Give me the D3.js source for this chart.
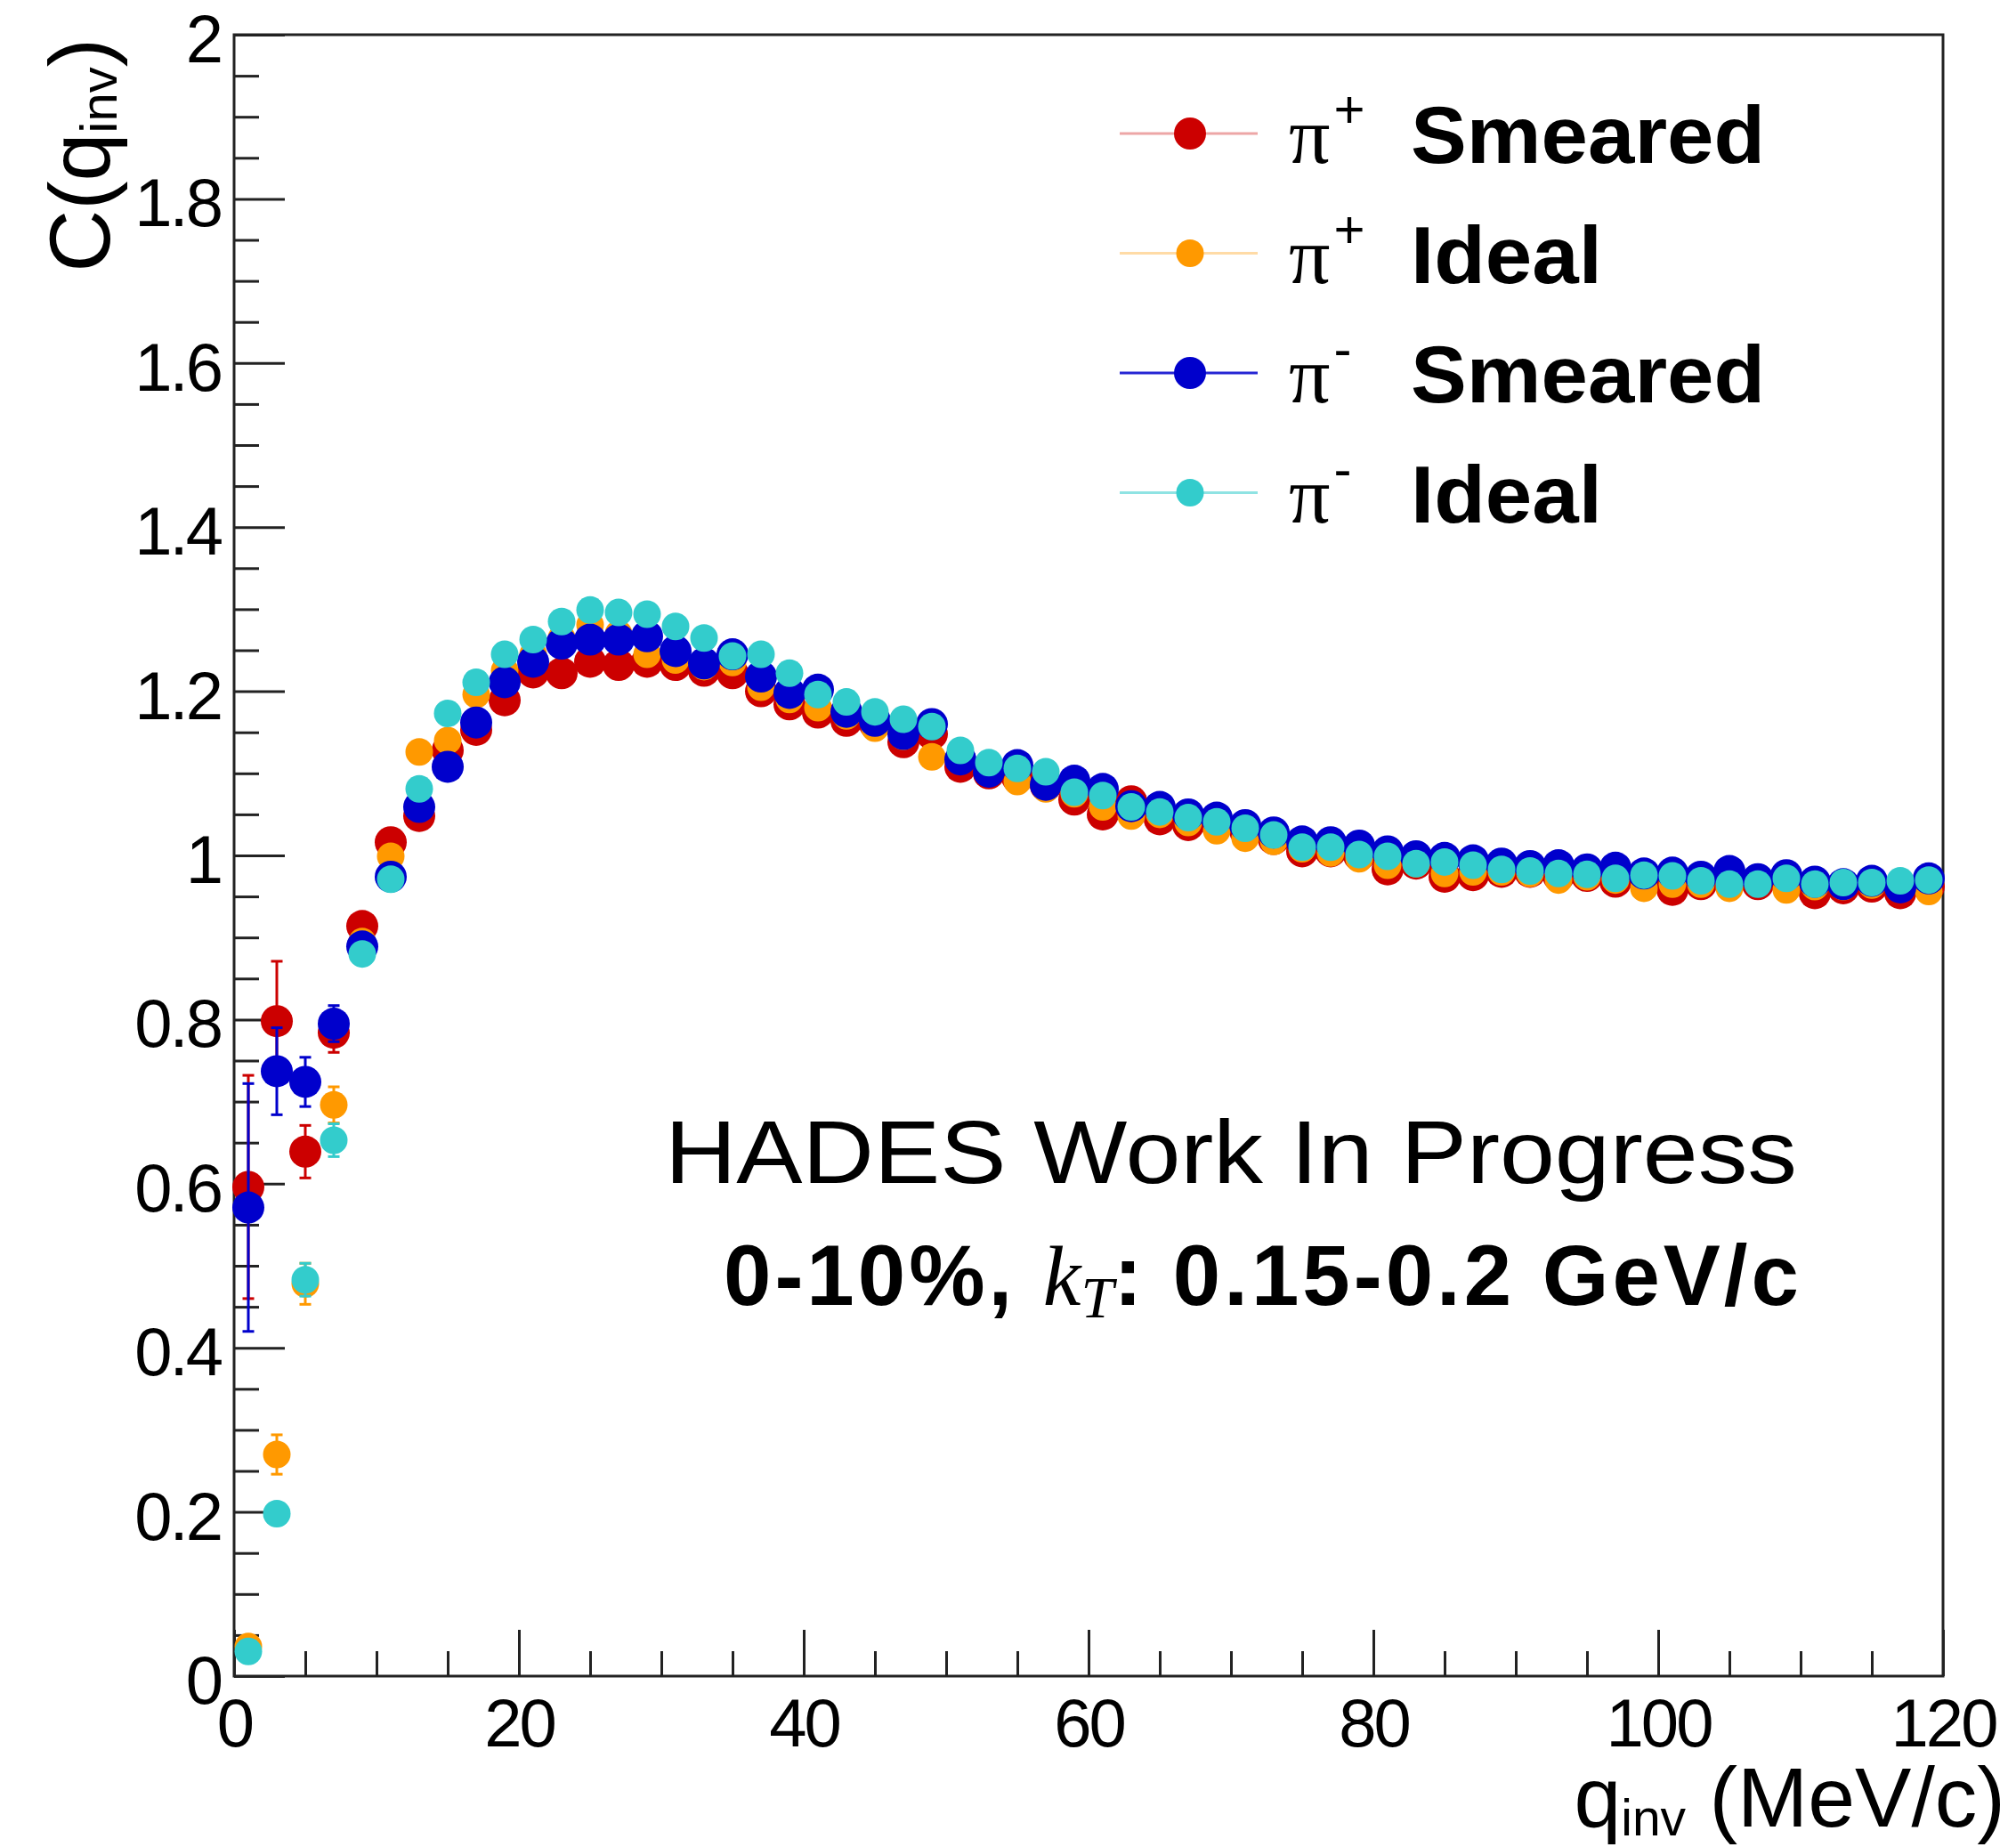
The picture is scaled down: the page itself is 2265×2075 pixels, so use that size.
<!DOCTYPE html>
<html>
<head>
<meta charset="utf-8">
<script src="https://cdn.jsdelivr.net/npm/d3@7"></script>
<style>
  body { margin: 0; background: #fff; }
  svg { display: block; }
  text { font-family: "Liberation Sans", Arial, sans-serif; fill: #000; }
</style>
</head>
<body>
<svg id="chart" width="2265" height="2075"></svg>
<script>
  // bin centres of q_inv (MeV/c)
  var qinv = [1, 3, 5, 7, 9, 11, 13, 15, 17, 19, 21, 23, 25, 27, 29, 31, 33, 35, 37, 39,
              41, 43, 45, 47, 49, 51, 53, 55, 57, 59, 61, 63, 65, 67, 69, 71, 73, 75, 77, 79,
              81, 83, 85, 87, 89, 91, 93, 95, 97, 99, 101, 103, 105, 107, 109, 111, 113, 115, 117, 119];

  var piPlusSmeared = [0.596, 0.798, 0.639, 0.784, 0.914, 1.016, 1.048, 1.128, 1.153, 1.189,
                       1.223, 1.222, 1.236, 1.232, 1.236, 1.232, 1.225, 1.222, 1.200, 1.184,
                       1.174, 1.164, 1.160, 1.138, 1.148, 1.108, 1.100, 1.095, 1.085, 1.068,
                       1.050, 1.066, 1.044, 1.037, 1.038, 1.030, 1.020, 1.005, 1.005, 1.000,
                       0.983, 0.990, 0.974, 0.976, 0.980, 0.980, 0.975, 0.975, 0.968, 0.970,
                       0.958, 0.965, 0.968, 0.965, 0.968, 0.954, 0.960, 0.962, 0.954, 0.962];
  var piPlusSmearedErr = [0.136, 0.073, 0.032, 0.024, 0.016, 0.013, 0.012, 0.011, 0.010, 0.010,
                          0.009, 0.009, 0.009, 0.008, 0.008, 0.008, 0.008, 0.007, 0.007, 0.007,
                          0.007, 0.007, 0.006, 0.006, 0.006, 0.006, 0.006, 0.006, 0.005, 0.005,
                          0.005, 0.005, 0.005, 0.005, 0.005, 0.005, 0.005, 0.005, 0.005, 0.005,
                          0.005, 0.005, 0.005, 0.005, 0.005, 0.005, 0.005, 0.005, 0.005, 0.005,
                          0.005, 0.005, 0.005, 0.005, 0.005, 0.005, 0.005, 0.005, 0.005, 0.005];

  var piPlusIdeal = [0.036, 0.270, 0.478, 0.696, 0.895, 0.999, 1.126, 1.140, 1.196, 1.225,
                     1.245, 1.265, 1.281, 1.270, 1.245, 1.238, 1.230, 1.235, 1.205, 1.190,
                     1.180, 1.170, 1.155, 1.145, 1.120, 1.115, 1.105, 1.090, 1.081, 1.075,
                     1.059, 1.048, 1.050, 1.040, 1.030, 1.021, 1.017, 1.008, 1.003, 0.996,
                     0.988, 0.990, 0.978, 0.980, 0.980, 0.978, 0.970, 0.974, 0.970, 0.960,
                     0.965, 0.965, 0.960, 0.966, 0.958, 0.962, 0.962, 0.964, 0.960, 0.956];
  var piPlusIdealErr = [0.010, 0.024, 0.025, 0.022, 0.012, 0.010, 0.009, 0.008, 0.008, 0.008,
                        0.007, 0.007, 0.007, 0.007, 0.006, 0.006, 0.006, 0.006, 0.006, 0.006,
                        0.005, 0.005, 0.005, 0.005, 0.005, 0.005, 0.005, 0.005, 0.005, 0.005,
                        0.004, 0.004, 0.004, 0.004, 0.004, 0.004, 0.004, 0.004, 0.004, 0.004,
                        0.004, 0.004, 0.004, 0.004, 0.004, 0.004, 0.004, 0.004, 0.004, 0.004,
                        0.004, 0.004, 0.004, 0.004, 0.004, 0.004, 0.004, 0.004, 0.004, 0.004];

  var piMinusSmeared = [0.571, 0.737, 0.724, 0.795, 0.889, 0.974, 1.059, 1.108, 1.162, 1.211,
                        1.236, 1.258, 1.263, 1.263, 1.267, 1.249, 1.234, 1.245, 1.218, 1.198,
                        1.202, 1.175, 1.164, 1.148, 1.160, 1.117, 1.102, 1.110, 1.086, 1.091,
                        1.081, 1.060, 1.059, 1.050, 1.046, 1.037, 1.028, 1.017, 1.016, 1.012,
                        1.005, 0.999, 0.997, 0.994, 0.990, 0.987, 0.988, 0.983, 0.985, 0.978,
                        0.979, 0.974, 0.981, 0.971, 0.976, 0.968, 0.965, 0.969, 0.961, 0.972];
  var piMinusSmearedErr = [0.151, 0.053, 0.030, 0.022, 0.015, 0.013, 0.012, 0.011, 0.010, 0.010,
                           0.009, 0.009, 0.009, 0.008, 0.008, 0.008, 0.008, 0.007, 0.007, 0.007,
                           0.007, 0.007, 0.006, 0.006, 0.006, 0.006, 0.006, 0.006, 0.005, 0.005,
                           0.005, 0.005, 0.005, 0.005, 0.005, 0.005, 0.005, 0.005, 0.005, 0.005,
                           0.005, 0.005, 0.005, 0.005, 0.005, 0.005, 0.005, 0.005, 0.005, 0.005,
                           0.005, 0.005, 0.005, 0.005, 0.005, 0.005, 0.005, 0.005, 0.005, 0.005];

  var piMinusIdeal = [0.030, 0.198, 0.483, 0.653, 0.880, 0.971, 1.081, 1.173, 1.211, 1.245,
                      1.263, 1.285, 1.299, 1.296, 1.294, 1.279, 1.265, 1.243, 1.245, 1.222,
                      1.196, 1.187, 1.175, 1.166, 1.157, 1.128, 1.113, 1.106, 1.102, 1.077,
                      1.073, 1.059, 1.053, 1.046, 1.041, 1.033, 1.025, 1.010, 1.010, 1.001,
                      0.999, 0.990, 0.992, 0.988, 0.983, 0.981, 0.978, 0.977, 0.972, 0.976,
                      0.975, 0.969, 0.965, 0.965, 0.972, 0.965, 0.967, 0.967, 0.969, 0.970];
  var piMinusIdealErr = [0.008, 0.010, 0.020, 0.020, 0.010, 0.009, 0.008, 0.008, 0.008, 0.007,
                         0.007, 0.007, 0.007, 0.006, 0.006, 0.006, 0.006, 0.006, 0.006, 0.006,
                         0.005, 0.005, 0.005, 0.005, 0.005, 0.005, 0.005, 0.005, 0.005, 0.005,
                         0.004, 0.004, 0.004, 0.004, 0.004, 0.004, 0.004, 0.004, 0.004, 0.004,
                         0.004, 0.004, 0.004, 0.004, 0.004, 0.004, 0.004, 0.004, 0.004, 0.004,
                         0.004, 0.004, 0.004, 0.004, 0.004, 0.004, 0.004, 0.004, 0.004, 0.004];

  var xMajorTicks = [0, 20, 40, 60, 80, 100, 120];
  var xMinorTicks = [5, 10, 15, 25, 30, 35, 45, 50, 55, 65, 70, 75, 85, 90, 95, 105, 110, 115];
  var yMajorTicks = [0, 0.2, 0.4, 0.6, 0.8, 1, 1.2, 1.4, 1.6, 1.8, 2];
  var yMinorTicks = [0.05, 0.1, 0.15, 0.25, 0.3, 0.35, 0.45, 0.5, 0.55, 0.65, 0.7, 0.75,
                     0.85, 0.9, 0.95, 1.05, 1.1, 1.15, 1.25, 1.3, 1.35, 1.45, 1.5, 1.55,
                     1.65, 1.7, 1.75, 1.85, 1.9, 1.95];

  var seriesCharge = ["+", "+", "-", "-"];
  var seriesKind = ["Smeared", "Ideal", "Smeared", "Ideal"];

  // ---------------------------------------------------------------
  var series = [
    { values: piPlusSmeared, errors: piPlusSmearedErr, color: "#cc0000", r: 18, legendOpacity: 0.35 },
    { values: piPlusIdeal, errors: piPlusIdealErr, color: "#ff9900", r: 15.5, legendOpacity: 0.35 },
    { values: piMinusSmeared, errors: piMinusSmearedErr, color: "#0000cc", r: 18, legendOpacity: 0.85 },
    { values: piMinusIdeal, errors: piMinusIdealErr, color: "#33cccc", r: 15.5, legendOpacity: 0.55 }
  ];

  var svg = d3.select("#chart");
  svg.append("rect").attr("width", 2265).attr("height", 2075).attr("fill", "#fff");

  var x = d3.scaleLinear().domain([0, 120]).range([263, 2183]);
  var y = d3.scaleLinear().domain([0, 2]).range([1883, 39]);

  // axes: minor and major ticks drawn separately, ticks point inwards
  var xMinor = svg.append("g").attr("transform", "translate(0,1883)")
    .call(d3.axisBottom(x).tickValues(xMinorTicks).tickSize(-28).tickFormat(""));
  var xMajor = svg.append("g").attr("transform", "translate(0,1883)")
    .call(d3.axisBottom(x).tickValues(xMajorTicks).tickSize(-52).tickPadding(25)
      .tickFormat(d3.format("d")));
  var yMinor = svg.append("g").attr("transform", "translate(263,0)")
    .call(d3.axisLeft(y).tickValues(yMinorTicks).tickSize(-28).tickFormat(""));
  var yMajor = svg.append("g").attr("transform", "translate(263,0)")
    .call(d3.axisLeft(y).tickValues(yMajorTicks).tickSize(-57).tickPadding(15)
      .tickFormat(d3.format("~g")));

  [xMinor, xMajor, yMinor, yMajor].forEach(function(g) {
    g.select(".domain").remove();
    g.selectAll(".tick line").attr("stroke", "#222").attr("stroke-width", 3);
    g.selectAll(".tick text")
      .style("font-family", "'Liberation Sans', Arial, sans-serif")
      .attr("font-size", 76)
      .attr("letter-spacing", -3)
      .attr("fill", "#000");
  });
  yMajor.selectAll(".tick text").attr("dy", "0.40em");

  // frame
  svg.append("rect")
    .attr("x", x(0)).attr("y", y(2))
    .attr("width", x(120) - x(0)).attr("height", y(0) - y(2))
    .attr("fill", "none").attr("stroke", "#222").attr("stroke-width", 3);

  // axis titles
  var yTitle = svg.append("text")
    .attr("transform", "translate(123,43) rotate(-90)")
    .attr("text-anchor", "end")
    .attr("font-size", 97);
  yTitle.append("tspan").text("C(q");
  yTitle.append("tspan").attr("font-size", 58).attr("dy", 8).text("inv");
  yTitle.append("tspan").attr("dy", -8).text(")");

  var xTitle = svg.append("text")
    .attr("x", 2253).attr("y", 2052)
    .attr("text-anchor", "end")
    .attr("font-size", 95);
  xTitle.append("tspan").text("q");
  xTitle.append("tspan").attr("font-size", 57).attr("dy", 10).text("inv");
  xTitle.append("tspan").attr("dy", -10).text(" (MeV/c)");

  // data points with error bars
  var capHalf = 6.5;
  series.forEach(function(s) {
    var pts = qinv.map(function(q, i) { return { q: q, v: s.values[i], e: s.errors[i] }; });
    var g = svg.append("g");

    var bars = g.selectAll(".err").data(pts).enter().append("g")
      .attr("stroke", s.color).attr("stroke-width", 3);
    bars.append("line")
      .attr("x1", function(d) { return x(d.q); })
      .attr("x2", function(d) { return x(d.q); })
      .attr("y1", function(d) { return y(d.v - d.e); })
      .attr("y2", function(d) { return y(d.v + d.e); });
    bars.append("line")
      .attr("x1", function(d) { return x(d.q) - capHalf; })
      .attr("x2", function(d) { return x(d.q) + capHalf; })
      .attr("y1", function(d) { return y(d.v + d.e); })
      .attr("y2", function(d) { return y(d.v + d.e); });
    bars.append("line")
      .attr("x1", function(d) { return x(d.q) - capHalf; })
      .attr("x2", function(d) { return x(d.q) + capHalf; })
      .attr("y1", function(d) { return y(d.v - d.e); })
      .attr("y2", function(d) { return y(d.v - d.e); });

    g.selectAll("circle").data(pts).enter().append("circle")
      .attr("cx", function(d) { return x(d.q); })
      .attr("cy", function(d) { return y(d.v); })
      .attr("r", s.r)
      .attr("fill", s.color);
  });

  // legend
  var legendTop = 150, legendStep = 134.5;
  series.forEach(function(s, i) {
    var cy = legendTop + i * legendStep;
    var lg = svg.append("g");
    lg.append("line")
      .attr("x1", 1258).attr("x2", 1413).attr("y1", cy).attr("y2", cy)
      .attr("stroke", s.color).attr("stroke-width", 3).attr("stroke-opacity", s.legendOpacity);
    lg.append("circle").attr("cx", 1337).attr("cy", cy).attr("r", s.r).attr("fill", s.color);

    var t = lg.append("text").attr("x", 1448).attr("y", cy + 33);
    t.append("tspan")
      .style("font-family", "'Liberation Serif', 'DejaVu Serif', serif")
      .attr("font-size", 92).text("\u03c0");
    t.append("tspan")
      .attr("font-size", 60).attr("dy", -40).attr("dx", 4)
      .text(seriesCharge[i]);
    lg.append("text")
      .attr("x", 1585).attr("y", cy + 33)
      .attr("font-size", 90).attr("font-weight", "bold")
      .attr("textLength", seriesKind[i] === "Smeared" ? 398 : 215)
      .attr("lengthAdjust", "spacingAndGlyphs")
      .text(seriesKind[i]);
  });

  // annotations
  svg.append("text")
    .attr("x", 747).attr("y", 1329)
    .attr("font-size", 100)
    .attr("textLength", 1272).attr("lengthAdjust", "spacingAndGlyphs")
    .text("HADES Work In Progress");

  var info = svg.append("text")
    .attr("x", 813).attr("y", 1466)
    .attr("font-size", 96).attr("font-weight", "bold").attr("letter-spacing", 4);
  info.append("tspan").text("0-10%, ");
  info.append("tspan")
    .style("font-family", "'Liberation Serif', 'DejaVu Serif', serif")
    .attr("font-style", "italic").attr("font-weight", "normal").attr("letter-spacing", 0)
    .text("k");
  info.append("tspan")
    .style("font-family", "'Liberation Serif', 'DejaVu Serif', serif")
    .attr("font-style", "italic").attr("font-weight", "normal").attr("letter-spacing", 0)
    .attr("font-size", 66).attr("dy", 14).text("T");
  info.append("tspan").attr("dy", -14).text(": 0.15-0.2 GeV/c");
</script>
</body>
</html>
